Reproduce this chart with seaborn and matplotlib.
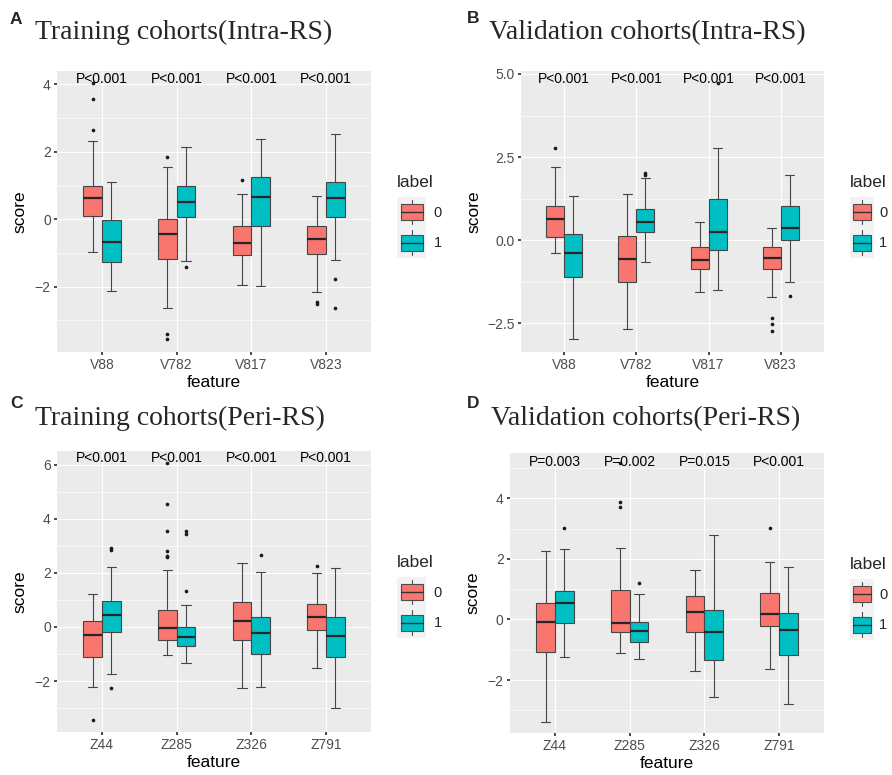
import pandas as pd
import seaborn as sns
import matplotlib.pyplot as plt
from matplotlib.legend_handler import HandlerBase
from matplotlib.patches import Patch, Rectangle
from matplotlib.lines import Line2D
from matplotlib.ticker import MultipleLocator

sns.set_theme(style='darkgrid', rc={
    'axes.facecolor': '#EBEBEB', 'grid.color': 'white',
    'xtick.bottom': True, 'ytick.left': True,
    'xtick.color': '#333333', 'ytick.color': '#333333',
    'xtick.labelcolor': '#4D4D4D', 'ytick.labelcolor': '#4D4D4D',
    'xtick.major.size': 2.5, 'ytick.major.size': 2.5,
    'xtick.major.pad': 2, 'ytick.major.pad': 2,
})
plt.rcParams['font.family'] = ['Liberation Sans', 'DejaVu Sans']

labels = ['0', '1']
colors = ['#F8766D', '#00BFC4']

# box stats per feature: [lower whisker, q1, median, q3, upper whisker]
# ---------------- A: training cohorts, intra-RS ----------------
a_features = ['V88', 'V782', 'V817', 'V823']
a_box0 = [[-0.97, 0.11, 0.62, 1.00, 2.33], [-2.64, -1.17, -0.43, 0.02, 1.55],
          [-1.95, -1.07, -0.70, -0.20, 0.74], [-2.15, -1.04, -0.60, -0.20, 0.69]]
a_box1 = [[-2.12, -1.26, -0.67, -0.01, 1.11], [-1.24, 0.06, 0.50, 0.98, 2.13],
          [-1.99, -0.20, 0.66, 1.24, 2.37], [-1.21, 0.06, 0.63, 1.11, 2.53]]
a_out0 = [[4.03, 3.57, 2.64], [1.86, -3.40, -3.56], [1.17], [-2.47, -2.53]]
a_out1 = [[], [-1.43], [], [-1.76, -2.64]]
a_pvals = ['P<0.001', 'P<0.001', 'P<0.001', 'P<0.001']

# ---------------- B: validation cohorts, intra-RS ----------------
b_features = ['V88', 'V782', 'V817', 'V823']
b_box0 = [[-0.37, 0.09, 0.65, 1.03, 2.20], [-2.67, -1.24, -0.56, 0.14, 1.38],
          [-1.55, -0.86, -0.58, -0.19, 0.55], [-1.70, -0.85, -0.52, -0.21, 0.38]]
b_box1 = [[-2.96, -1.10, -0.38, 0.19, 1.33], [-0.64, 0.25, 0.56, 0.93, 1.86],
          [-1.49, -0.28, 0.25, 1.23, 2.78], [-1.26, 0.02, 0.38, 1.02, 1.95]]
b_out0 = [[2.76], [], [], [-2.34, -2.53, -2.73]]
b_out1 = [[], [2.02, 1.97], [4.72], [-1.68]]
b_pvals = ['P<0.001', 'P<0.001', 'P<0.001', 'P<0.001']

# ---------------- C: training cohorts, peri-RS ----------------
c_features = ['Z44', 'Z285', 'Z326', 'Z791']
c_box0 = [[-2.21, -1.10, -0.31, 0.23, 1.23], [-1.04, -0.47, -0.02, 0.62, 2.09],
          [-2.26, -0.47, 0.21, 0.93, 2.35], [-1.52, -0.12, 0.37, 0.84, 2.01]]
c_box1 = [[-1.73, -0.17, 0.43, 0.96, 2.23], [-1.32, -0.69, -0.36, 0.00, 0.80],
          [-2.21, -1.00, -0.21, 0.35, 2.04], [-3.00, -1.11, -0.33, 0.37, 2.17]]
c_out0 = [[-3.42], [6.05, 4.56, 3.53, 2.79, 2.63, 2.58], [], [2.27]]
c_out1 = [[2.93, 2.86, -2.27], [3.54, 3.44, 1.33], [2.64], []]
c_pvals = ['P<0.001', 'P<0.001', 'P<0.001', 'P<0.001']

# ---------------- D: validation cohorts, peri-RS ----------------
d_features = ['Z44', 'Z285', 'Z326', 'Z791']
d_box0 = [[-3.38, -1.08, -0.08, 0.53, 2.27], [-1.12, -0.41, -0.10, 0.98, 2.37],
          [-1.70, -0.40, 0.26, 0.78, 1.64], [-1.64, -0.20, 0.18, 0.88, 1.91]]
d_box1 = [[-1.25, -0.12, 0.53, 0.95, 2.34], [-1.31, -0.74, -0.39, -0.09, 0.85],
          [-2.55, -1.35, -0.40, 0.32, 2.79], [-2.79, -1.17, -0.36, 0.22, 1.72]]
d_out0 = [[], [5.16, 3.87, 3.73], [], [3.01]]
d_out1 = [[3.01], [1.19], [], []]
d_pvals = ['P=0.003', 'P=0.002', 'P=0.015', 'P<0.001']


class BoxKey(HandlerBase):
    # ggplot-like legend key: grey square, box with median and whiskers
    def create_artists(self, legend, orig_handle, xdescent, ydescent, width, height, fontsize, trans):
        x0, y0 = -xdescent, -ydescent
        cx, cy = x0 + width / 2, y0 + height / 2
        bw, bh = width * 0.76, height * 0.52
        bg = Rectangle((x0, y0), width, height, facecolor='#F2F2F2', edgecolor='none', transform=trans)
        box = Rectangle((cx - bw / 2, cy - bh / 2), bw, bh, facecolor=orig_handle.get_facecolor(),
                        edgecolor='#4D4D4D', lw=0.8, transform=trans)
        med = Line2D([cx - bw / 2, cx + bw / 2], [cy, cy], color='#333333', lw=1.0, transform=trans)
        up = Line2D([cx, cx], [cy + bh / 2, y0 + height * 0.9], color='#4D4D4D', lw=0.8, transform=trans)
        lo = Line2D([cx, cx], [y0 + height * 0.1, cy - bh / 2], color='#4D4D4D', lw=0.8, transform=trans)
        return [bg, up, lo, box, med]


W, H = 892, 775
fig = plt.figure(figsize=(W / 100, H / 100), dpi=100)


def px_axes(left, top, right, bottom):
    return fig.add_axes([left / W, 1 - bottom / H, (right - left) / W, (bottom - top) / H])


def draw_panel(ax, features, box0, box1, out0, out1, pvals, p_y, ylim, major, ylab_x):
    rows = []
    for i, f in enumerate(features):
        for lab, boxes in zip(labels, [box0, box1]):
            for v in boxes[i]:
                rows.append((f, lab, v))
    df = pd.DataFrame(rows, columns=['feature', 'label', 'score'])
    sns.boxplot(data=df, x='feature', y='score', hue='label', order=features, hue_order=labels,
                palette=colors, saturation=1, width=0.5, whis=(0, 100), showfliers=False,
                linecolor='#454545', linewidth=0.8, legend=False, ax=ax,
                medianprops=dict(color='#262626', lw=1.6))

    # outliers, placed at the dodged box centres
    fx, fy = [], []
    for i in range(len(features)):
        for k, outs in enumerate([out0, out1]):
            for v in outs[i]:
                fx.append(i + (k - 0.5) * 0.25)
                fy.append(v)
    sns.scatterplot(x=fx, y=fy, color='#1A1A1A', s=7, linewidth=0, ax=ax, legend=False, zorder=5)

    for i, p in enumerate(pvals):
        ax.text(i, p_y, p, ha='center', va='center', fontsize=10, color='black', zorder=6)

    ax.set_xlim(-0.6, len(features) - 0.4)
    ax.set_ylim(*ylim)
    ax.yaxis.set_major_locator(MultipleLocator(major))
    ax.yaxis.set_minor_locator(MultipleLocator(major / 2))
    ax.grid(True, which='major', color='white', lw=0.8)
    ax.grid(True, which='minor', axis='y', color='white', lw=0.4)
    ax.xaxis.grid(True)
    ax.tick_params(which='minor', length=0)
    ax.tick_params(labelsize=10)
    for s in ax.spines.values():
        s.set_visible(False)
    ax.set_xlabel('feature', fontsize=12.5, color='black')
    ax.set_ylabel('score', fontsize=12.5, color='black')
    ax.xaxis.set_label_coords(0.5, -0.082)
    ax.yaxis.set_label_coords(ylab_x, 0.5)
    ax.set_axisbelow(True)


def add_legend(ax, left, top, key_len=2.0, text_pad=0.5):
    handles = [Patch(facecolor=c) for c in colors]
    ax.legend(handles, labels, loc='upper left', bbox_to_anchor=(left / W, 1 - top / H),
              bbox_transform=fig.transFigure, frameon=False, borderpad=0, borderaxespad=0,
              handler_map={Patch: BoxKey()}, handlelength=key_len, handleheight=2.83,
              labelspacing=0, handletextpad=text_pad, fontsize=10.5)
    fig.text(left / W, 1 - (top - 10) / H, 'label', fontsize=12.5, va='baseline', ha='left')


ax_a = px_axes(57, 71, 371, 352)
draw_panel(ax_a, a_features, a_box0, a_box1, a_out0, a_out1, a_pvals, 4.16, (-3.94, 4.40), 2, -0.093)
add_legend(ax_a, 397, 197)

ax_b = px_axes(521, 71, 824, 352)
draw_panel(ax_b, b_features, b_box0, b_box1, b_out0, b_out1, b_pvals, 4.84, (-3.36, 5.09), 2.5, -0.13)
add_legend(ax_b, 850, 197, key_len=1.65, text_pad=0.35)

ax_c = px_axes(57, 451, 371, 732)
draw_panel(ax_c, c_features, c_box0, c_box1, c_out0, c_out1, c_pvals, 6.23, (-3.88, 6.50), 2, -0.093)
add_legend(ax_c, 397, 577)

ax_d = px_axes(510, 453, 824, 733)
draw_panel(ax_d, d_features, d_box0, d_box1, d_out0, d_out1, d_pvals, 5.21, (-3.75, 5.50), 2, -0.093)
add_legend(ax_d, 850, 579, key_len=1.65, text_pad=0.35)

# panel letters and titles
titles = ['Training cohorts(Intra-RS)', 'Validation cohorts(Intra-RS)',
          'Training cohorts(Peri-RS)', 'Validation cohorts(Peri-RS)']
letters = ['A', 'B', 'C', 'D']
letter_pos = [(10, 24), (467, 23), (10, 408), (467, 408)]
title_pos = [(35, 39), (489, 39), (35, 425), (491, 425)]
for t, l, (lx, ly), (tx, ty) in zip(titles, letters, letter_pos, title_pos):
    fig.text(lx / W, 1 - ly / H, l, fontsize=12.5, fontweight='bold', va='baseline')
    fig.text(tx / W, 1 - ty / H, t, fontsize=20, family='Liberation Serif', va='baseline')

fig.savefig('out.png', dpi=100)
